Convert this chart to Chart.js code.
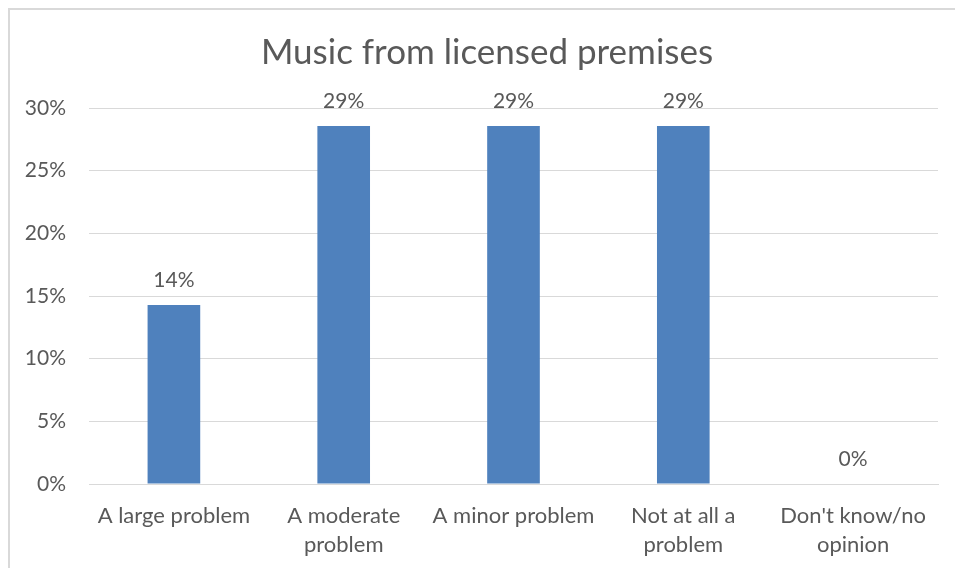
<!DOCTYPE html>
<html>
<head>
<meta charset="utf-8">
<script src="https://cdn.jsdelivr.net/npm/chart.js@4"></script>
<style>
  html, body { margin: 0; padding: 0; background: #fff; }
  #wrap { position: absolute; left: 0; top: 0; width: 955px; height: 568px; }
  #frame { position: absolute; left: 8px; top: 8px; right: 0; bottom: 0;
           border-top: 2px solid #d9d9d9; border-left: 2px solid #d9d9d9; }
</style>
</head>
<body>
<div id="frame"></div>
<div id="wrap"><canvas id="myChart" width="955" height="568"></canvas></div>
<script>
const chartTitle = "Music from licensed premises";
const categories = [
  "A large problem",
  ["A moderate", "problem"],
  "A minor problem",
  ["Not at all a", "problem"],
  ["Don't know/no", "opinion"],
];
const shares = [14.29, 28.57, 28.57, 28.57, 0];
const yTicks = [0, 5, 10, 15, 20, 25, 30];

const textColor = "#595959";
const fontFamily = "Lato, 'Open Sans', sans-serif";

// title drawn by hand so it can sit a little right of the canvas centre
const titlePlugin = {
  id: "manualTitle",
  afterDraw(chart) {
    const ctx = chart.ctx;
    ctx.save();
    ctx.font = "35px " + fontFamily;
    ctx.fillStyle = textColor;
    ctx.textAlign = "center";
    ctx.textBaseline = "middle";
    ctx.fillText(chartTitle, 487, 53);
    ctx.restore();
  },
};

const valueLabelPlugin = {
  id: "valueLabels",
  afterDatasetsDraw(chart) {
    const ctx = chart.ctx;
    const meta = chart.getDatasetMeta(0);
    ctx.save();
    ctx.font = "21px " + fontFamily;
    ctx.fillStyle = textColor;
    ctx.textAlign = "center";
    ctx.textBaseline = "middle";
    meta.data.forEach((bar, i) => {
      ctx.fillText(Math.round(shares[i]) + "%", bar.x, bar.y - 25);
    });
    ctx.restore();
  },
};

const ctx = document.getElementById("myChart").getContext("2d");
new Chart(ctx, {
  type: "bar",
  data: {
    labels: categories,
    datasets: [
      {
        data: shares,
        backgroundColor: "#4f81bd",
        borderWidth: 0,
        categoryPercentage: 1,
        barPercentage: 0.31,
      },
    ],
  },
  options: {
    responsive: false,
    animation: false,
    layout: { padding: { left: 0, right: 17, top: 108, bottom: 0 } },
    plugins: {
      legend: { display: false },
      tooltip: { enabled: false },
      title: { display: false },
    },
    scales: {
      x: {
        grid: { display: false, drawTicks: false },
        border: { display: true, color: "#d9d9d9", width: 1 },
        ticks: {
          color: textColor,
          font: { family: fontFamily, size: 22, lineHeight: 1.32 },
          padding: 17,
          maxRotation: 0,
          autoSkip: false,
        },
        afterFit(scale) { scale.height = 84; },
      },
      y: {
        min: 0,
        max: 30,
        afterBuildTicks(scale) { scale.ticks = yTicks.map((v) => ({ value: v })); },
        grid: { color: "#d9d9d9", drawTicks: false },
        border: { display: false },
        ticks: {
          color: textColor,
          font: { family: fontFamily, size: 21 },
          padding: 23,
          callback: (v) => v + "%",
        },
        afterFit(scale) { scale.width = 89; },
      },
    },
  },
  plugins: [valueLabelPlugin, titlePlugin],
});
</script>
</body>
</html>
